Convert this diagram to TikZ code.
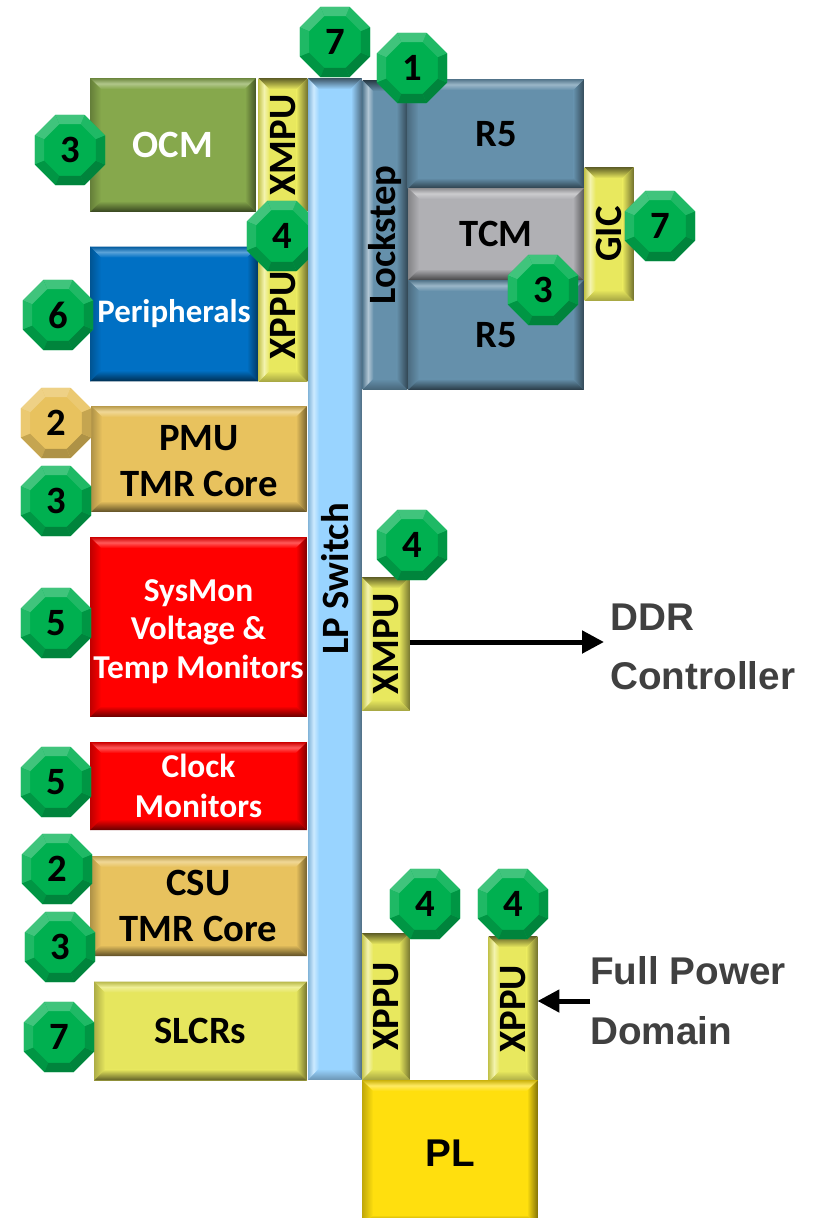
\documentclass[tikz,border=0pt]{standalone}
\usepackage{fontspec}
\usepackage{graphicx}
\setmainfont{Carlito}
\newfontfamily\armfont{Liberation Sans}
\usetikzlibrary{shapes.geometric, arrows.meta, calc}

\definecolor{ocmgreen}{HTML}{86A84C}
\definecolor{xguyellow}{HTML}{E8E85E}
\definecolor{periphblue}{HTML}{0070C4}
\definecolor{lpblue}{HTML}{99D4FF}
\definecolor{r5blue}{HTML}{6590AB}
\definecolor{tcmgray}{HTML}{B0B0B4}
\definecolor{tmrgold}{HTML}{E8C25E}
\definecolor{slcryellow}{HTML}{E6E65E}
\definecolor{plyellow}{HTML}{FFDF0E}
\definecolor{badgegreen}{HTML}{00B050}
\definecolor{labelgray}{HTML}{404040}

\newcommand{\bevelcorners}{
  \coordinate (sw) at (path picture bounding box.south west);
  \coordinate (se) at (path picture bounding box.south east);
  \coordinate (ne) at (path picture bounding box.north east);
  \coordinate (nw) at (path picture bounding box.north west);
  \coordinate (isw) at ($(sw)+(.22cm,.22cm)$);
  \coordinate (ise) at ($(se)+(-.22cm,.22cm)$);
  \coordinate (ine) at ($(ne)+(-.22cm,-.22cm)$);
  \coordinate (inw) at ($(nw)+(.22cm,-.22cm)$);
}
\newcommand{\vtext}[1]{\rotatebox{90}{#1}}

\tikzset{
  block/.style={rectangle, inner sep=0pt, outer sep=0pt, align=center, fill=#1,
    font=\bfseries\fontsize{22}{26}\selectfont,
    path picture={
      \bevelcorners
      \shade[top color=#1!80!black, bottom color=#1, middle color=#1!65!white] (nw) -- (ne) -- (ine) -- (inw) -- cycle;
      \shade[left color=#1!75!black, right color=#1] (nw) -- (sw) -- (isw) -- (inw) -- cycle;
      \shade[left color=#1, right color=#1!50!black] (ne) -- (se) -- (ise) -- (ine) -- cycle;
      \shade[top color=#1, bottom color=#1!40!black] (sw) -- (se) -- (ise) -- (isw) -- cycle;
    }},
  vblock/.style={rectangle, inner sep=0pt, outer sep=0pt, align=center, fill=#1,
    font=\bfseries\fontsize{22}{26}\selectfont,
    path picture={
      \bevelcorners
      \shade[left color=#1!85!black, right color=#1, middle color=#1!50!white] (nw) -- (sw) -- (isw) -- (inw) -- cycle;
      \shade[top color=#1!40!black, bottom color=#1] (nw) -- (ne) -- (ine) -- (inw) -- cycle;
      \shade[left color=#1, right color=#1!50!black] (ne) -- (se) -- (ise) -- (ine) -- cycle;
      \shade[top color=#1, bottom color=#1!70!black] (sw) -- (se) -- (ise) -- (isw) -- cycle;
    }},
  badge/.style={regular polygon, regular polygon sides=8,
    inner sep=0pt, minimum size=1.52cm, fill=#1, font=\bfseries\fontsize{22}{22}\selectfont,
    path picture={
      \coordinate (mid) at (path picture bounding box.center);
      \foreach \a/\m/\c in {22.5/88/white,67.5/75/white,112.5/75/white,157.5/88/white,
                            202.5/85/black,247.5/75/black,292.5/75/black,337.5/85/black}{
        \fill[#1!\m!\c] ($(mid)+(\a:.9cm)$) -- ($(mid)+(\a+45:.9cm)$)
           -- ($(mid)+(\a+45:.56cm)$) -- ($(mid)+(\a:.56cm)$) -- cycle;
      }
    }},
  note/.style={font=\armfont\bfseries\fontsize{22}{34}\selectfont, text=labelgray, align=left, inner sep=0pt},
  bigarrow/.style={line width=.1cm, -{Triangle[length=.44cm,width=.44cm]}}
}

\begin{document}
\begin{tikzpicture}[x=.02cm,y=-.02cm]
\useasboundingbox (0,0) rectangle (818,1218);

% low power domain blocks
\node[block=ocmgreen, minimum width=3.32cm, minimum height=2.68cm, text=white] (ocm) at (173,145) {OCM};
\node[block=periphblue, minimum width=3.36cm, minimum height=2.7cm, text=white, font=\bfseries\fontsize{18.7}{26}\selectfont] (periph) at (174,314) {Peripherals};
\node[block=tmrgold, minimum width=4.32cm, minimum height=2.12cm] (pmu) at (199,459) {\rule{0pt}{16.5pt}PMU\\TMR Core};
\node[block=red, minimum width=4.34cm, minimum height=3.6cm, text=white, font=\bfseries\fontsize{19}{22}\selectfont] (sysmon) at (198.5,627) {\rule{0pt}{17.5pt}SysMon\\Voltage \&\\Temp Monitors};
\node[block=red, minimum width=4.34cm, minimum height=1.76cm, text=white, font=\bfseries\fontsize{19}{22.6}\selectfont] (clock) at (198.5,786) {Clock\\Monitors};
\node[block=tmrgold, minimum width=4.34cm, minimum height=2cm] (csu) at (198.5,906) {CSU\\TMR Core};
\node[block=slcryellow, minimum width=4.26cm, minimum height=1.98cm] (slcr) at (200.5,1031) {SLCRs};

% isolation units left of the switch
\node[vblock=xguyellow, minimum width=.98cm, minimum height=2.68cm] (xmpua) at (283,145) {\vtext{XMPU}};
\node[vblock=xguyellow, minimum width=.98cm, minimum height=2.66cm] (xppua) at (283,315.5) {\vtext{XPPU}};
\node[badge=badgegreen] (foura) at (282,236) {4};

% switch and isolation units right of it
\node[vblock=lpblue, minimum width=1.08cm, minimum height=20.04cm] (lpswitch) at (335,579) {\vtext{LP Switch}};
\node[vblock=xguyellow, minimum width=.96cm, minimum height=2.68cm] (xmpub) at (386,644) {\vtext{XMPU}};
\node[vblock=xguyellow, minimum width=.96cm, minimum height=2.94cm] (xppub) at (386,1006.5) {\vtext{XPPU}};
\node[vblock=xguyellow, minimum width=.98cm, minimum height=2.92cm] (xppuc) at (513,1009) {\vtext{XPPU}};

% rpu
\node[vblock=r5blue, minimum width=.9cm, minimum height=6.2cm] (lockstep) at (385,235) {\vtext{Lockstep}};
\node[block=r5blue, minimum width=3.54cm, minimum height=2.2cm] (r5a) at (496,134) {R5};
\node[block=r5blue, minimum width=3.52cm, minimum height=2.2cm] (r5b) at (496,335) {R5};
\node[block=tcmgray, minimum width=3.52cm, minimum height=1.84cm] (tcm) at (496,234) {TCM};
\node[vblock=xguyellow, minimum width=.98cm, minimum height=2.68cm] (gic) at (609,234) {\vtext{GIC}};

\node[block=plyellow, minimum width=3.52cm, minimum height=2.92cm, font=\armfont\bfseries\fontsize{22}{26}\selectfont] (pl) at (450,1153) {PL};

% numbered badges
\node[badge=badgegreen] (seva) at (335,42) {7};
\node[badge=badgegreen] (one) at (412,68) {1};
\node[badge=badgegreen] (threea) at (70,150) {3};
\node[badge=badgegreen] (six) at (58,315) {6};
\node[badge=badgegreen] (sevb) at (660,226) {7};
\node[badge=badgegreen] (threeb) at (543,290) {3};
\node[badge=tmrgold] (twoa) at (56,423) {2};
\node[badge=badgegreen] (threec) at (56,501) {3};
\node[badge=badgegreen] (fivea) at (56,623) {5};
\node[badge=badgegreen] (fourb) at (412,545) {4};
\node[badge=badgegreen] (fiveb) at (56,782) {5};
\node[badge=badgegreen] (twob) at (57,869) {2};
\node[badge=badgegreen] (threed) at (60,947) {3};
\node[badge=badgegreen] (fourc) at (425,904) {4};
\node[badge=badgegreen] (fourd) at (513,904) {4};
\node[badge=badgegreen] (sevc) at (59,1037) {7};

% outside the domain
\node[note, anchor=west] (ddr) at (610,647) {DDR\\Controller};
\node[note, anchor=west] (fullpower) at (590,1001) {Full Power\\Domain};
\coordinate (ddrtip) at (604,642);
\draw[bigarrow] (xmpub.east |- ddrtip) -- (ddrtip);
\draw[bigarrow] (fullpower.west) -- (fullpower.west -| xppuc.east);

\end{tikzpicture}
\end{document}
